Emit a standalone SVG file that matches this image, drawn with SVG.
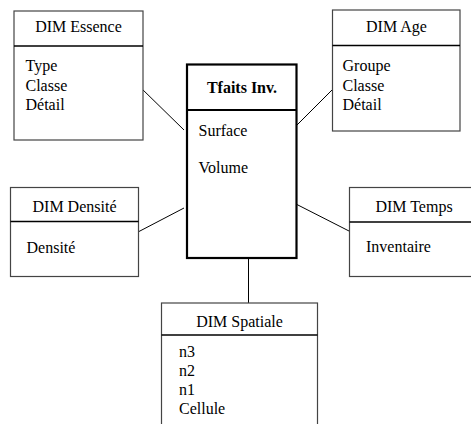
<svg xmlns="http://www.w3.org/2000/svg" width="471" height="424" viewBox="0 0 471 424">
  <style>
    text { font-family: "Liberation Serif", "Times New Roman", Tinos, "Noto Serif", "DejaVu Serif", FreeSerif, Times, serif; font-size: 16px; fill: #000; }
    .title { text-anchor: middle; }
    .fact-title { text-anchor: middle; font-weight: bold; }
    .box { fill: #fff; stroke: #444; stroke-width: 1.2; }
    .divider { stroke: #000; stroke-width: 1.5; }
    .fact { fill: #fff; stroke: #000; stroke-width: 2.2; }
    .link { stroke: #000; stroke-width: 1; fill: none; }
  </style>

  <!-- connectors between the fact table and its dimensions -->
  <g id="connectors">
    <line class="link" x1="140" y1="87" x2="184" y2="130"/>
    <line class="link" x1="292" y1="130" x2="336" y2="86"/>
    <line class="link" x1="138" y1="232" x2="184" y2="208"/>
    <line class="link" x1="292" y1="202" x2="349" y2="231"/>
    <line class="link" x1="248.5" y1="258" x2="248.5" y2="303"/>
  </g>

  <!-- fact table -->
  <g id="tfaits">
    <rect class="fact" x="187" y="64.5" width="109.5" height="193.5"/>
    <line class="fact" x1="187" y1="110" x2="296.5" y2="110"/>
    <text class="fact-title" x="242" y="92.5">Tfaits Inv.</text>
    <text x="198.5" y="135.5">Surface</text>
    <text x="198.5" y="173">Volume</text>
  </g>

  <!-- dimension: essence -->
  <g id="dim-essence">
    <rect class="box" x="14" y="11" width="129" height="129"/>
    <line class="divider" x1="14" y1="46" x2="143" y2="46"/>
    <text class="title" x="78.5" y="32">DIM Essence</text>
    <text x="25.5" y="71">Type</text>
    <text x="25.5" y="90.5">Classe</text>
    <text x="25.5" y="110">Détail</text>
  </g>

  <!-- dimension: age -->
  <g id="dim-age">
    <rect class="box" x="332.5" y="10" width="127.5" height="121"/>
    <line class="divider" x1="332.5" y1="45.5" x2="460" y2="45.5"/>
    <text class="title" x="396.5" y="32">DIM Age</text>
    <text x="342.5" y="71">Groupe</text>
    <text x="342.5" y="90.5">Classe</text>
    <text x="342.5" y="110">Détail</text>
  </g>

  <!-- dimension: densite -->
  <g id="dim-densite">
    <rect class="box" x="10.5" y="187.5" width="128" height="89"/>
    <line class="divider" x1="10.5" y1="221.5" x2="138.5" y2="221.5"/>
    <text class="title" x="74.5" y="212">DIM Densité</text>
    <text x="26.5" y="253">Densité</text>
  </g>

  <!-- dimension: temps -->
  <g id="dim-temps">
    <rect class="box" x="349.5" y="187.5" width="125" height="89"/>
    <line class="divider" x1="349.5" y1="222" x2="474" y2="222"/>
    <text class="title" x="414" y="212">DIM Temps</text>
    <text x="366" y="252">Inventaire</text>
  </g>

  <!-- dimension: spatiale -->
  <g id="dim-spatiale">
    <rect class="box" x="161.5" y="303" width="156" height="130"/>
    <line class="divider" x1="161.5" y1="335" x2="317.5" y2="335"/>
    <text class="title" x="239.5" y="326.5">DIM Spatiale</text>
    <text x="179" y="357">n3</text>
    <text x="179" y="376">n2</text>
    <text x="179" y="395">n1</text>
    <text x="179" y="414">Cellule</text>
  </g>
</svg>
